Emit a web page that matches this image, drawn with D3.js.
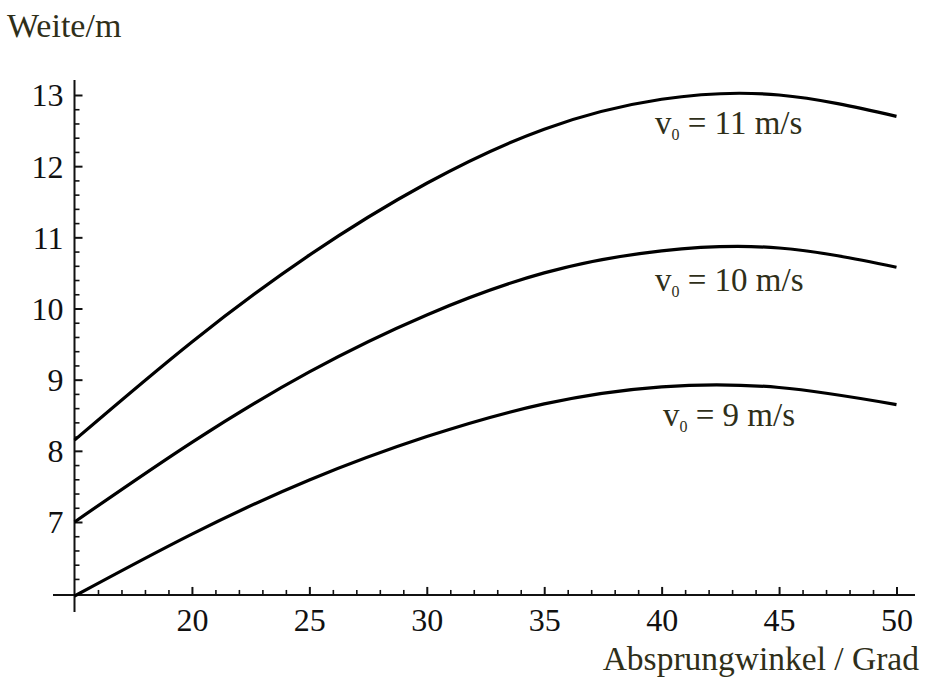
<!DOCTYPE html>
<meta charset="utf-8">
<script src="https://d3js.org/d3.v7.min.js"></script>
<style>
  body { margin: 0; background: #fff; }
  text { font-family: "Liberation Serif", "Times New Roman", serif; }
</style>
<svg id="my_dataviz" width="925" height="681"></svg>

<script>

// data: jump distance (m) vs take-off angle (deg)
var angles = [15, 20, 25, 30, 35, 40, 45, 50];
var weite9  = [5.96, 6.83, 7.59, 8.20, 8.66, 8.90, 8.89, 8.65];
var weite10 = [7.00, 8.12, 9.11, 9.91, 10.50, 10.81, 10.85, 10.58];
var weite11 = [8.15, 9.53, 10.75, 11.76, 12.52, 12.94, 13.00, 12.70];
var seriesNames = ["11", "10", "9"];
var xTicks = [20, 25, 30, 35, 40, 45, 50];
var yTicks = [7, 8, 9, 10, 11, 12, 13];

var svg = d3.select("svg");
var textColor = "#2f2f19";

// scales
var x = d3.scaleLinear().domain([15, 50]).range([74.5, 896.5]);
var y = d3.scaleLinear().domain([7, 13]).range([522, 95]);
var yOrigin = 5.975;

// axis lines (Mathematica style, crossing at the origin point)
svg.append("line")
  .attr("x1", 53).attr("x2", 915)
  .attr("y1", y(yOrigin)).attr("y2", y(yOrigin))
  .attr("stroke", "#111").attr("stroke-width", 2);
svg.append("line")
  .attr("x1", x(15)).attr("x2", x(15))
  .attr("y1", 80).attr("y2", 612)
  .attr("stroke", "#111").attr("stroke-width", 2);

// x axis: minor + major ticks pointing up
var xMinor = d3.range(16, 51, 1).filter(function(d){ return d % 5 != 0 });
svg.append("g")
  .attr("transform", "translate(0," + y(yOrigin) + ")")
  .call(d3.axisBottom(x).tickValues(xMinor).tickSize(-5).tickFormat(""))
  .call(function(g){ g.select(".domain").remove() })
  .selectAll("line").attr("stroke", "#111").attr("stroke-width", 1.6);

var gx = svg.append("g")
  .attr("transform", "translate(0," + y(yOrigin) + ")")
  .call(d3.axisBottom(x).tickValues(xTicks).tickSize(-8).tickPadding(12).tickFormat(d3.format("d")));
gx.select(".domain").remove();
gx.selectAll("line").attr("stroke", "#111").attr("stroke-width", 2);
gx.selectAll("text")
  .attr("fill", "#111")
  .style("font-size", "32px")
  .attr("dy", "0.76em");

// y axis: minor + major ticks pointing right
var yMinor = d3.range(6.2, 13.01, 0.2).filter(function(d){ return Math.abs(d - Math.round(d)) > 0.05 });
svg.append("g")
  .attr("transform", "translate(" + x(15) + ",0)")
  .call(d3.axisLeft(y).tickValues(yMinor).tickSize(-5).tickFormat(""))
  .call(function(g){ g.select(".domain").remove() })
  .selectAll("line").attr("stroke", "#111").attr("stroke-width", 1.6);

var gy = svg.append("g")
  .attr("transform", "translate(" + x(15) + ",0)")
  .call(d3.axisLeft(y).tickValues(yTicks).tickSize(-8).tickPadding(11).tickFormat(d3.format("d")));
gy.select(".domain").remove();
gy.selectAll("line").attr("stroke", "#111").attr("stroke-width", 2);
gy.selectAll("text")
  .attr("fill", "#111")
  .style("font-size", "32px")
  .attr("dy", "0.34em");

// curves
var series = [weite11, weite10, weite9];
var line = d3.line()
  .x(function(d, i){ return x(angles[i]) })
  .y(function(d){ return y(d) })
  .curve(d3.curveNatural);

svg.selectAll(".curve")
  .data(series)
  .enter()
  .append("path")
    .attr("class", "curve")
    .attr("d", line)
    .attr("fill", "none")
    .attr("stroke", "#000")
    .attr("stroke-width", 3.2);

// curve labels  v0 = .. m/s
var labelPos = [[655, 134], [655, 291], [663, 426]];
seriesNames.forEach(function(name, i) {
  var t = svg.append("text")
    .attr("x", labelPos[i][0])
    .attr("y", labelPos[i][1])
    .attr("fill", textColor)
    .style("font-size", "33px");
  t.append("tspan").text("v");
  t.append("tspan").text("0").style("font-size", "16px").attr("dy", 6);
  t.append("tspan").text(" = " + name + " m/s").attr("dy", -6);
});

// axis titles
svg.append("text")
  .attr("x", 7).attr("y", 37)
  .attr("fill", textColor)
  .style("font-size", "34px")
  .text("Weite/m");

svg.append("text")
  .attr("x", 919).attr("y", 670)
  .attr("text-anchor", "end")
  .attr("fill", textColor)
  .style("font-size", "33.5px")
  .text("Absprungwinkel / Grad");

</script>
